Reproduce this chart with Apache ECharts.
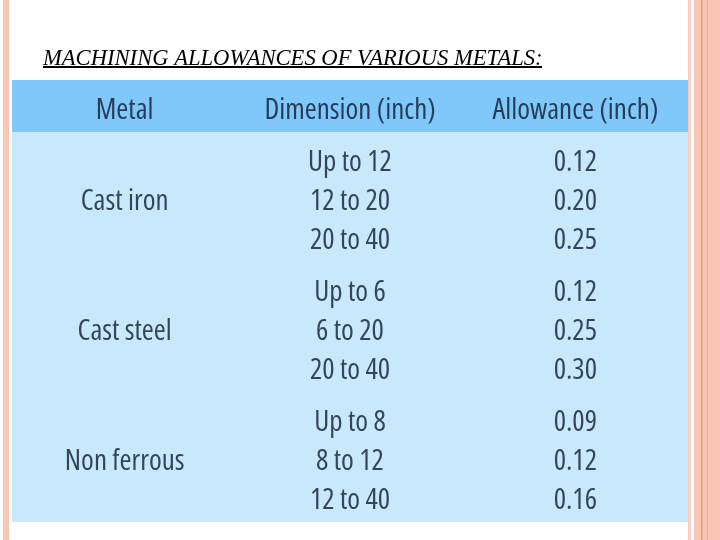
<!DOCTYPE html>
<html>
<head>
<meta charset="utf-8">
<script src="https://cdn.jsdelivr.net/npm/echarts@6/dist/echarts.min.js"></script>
<style>
  html, body { margin: 0; padding: 0; background: #fff; }
  #main { width: 720px; height: 540px; }
</style>
</head>
<body>
<div id="main"></div>
<script>
var headers = ['Metal', 'Dimension (inch)', 'Allowance (inch)'];
var metals = ['Cast iron', 'Cast steel', 'Non ferrous'];
var dimensions = [
    ['Up to 12', '12 to 20', '20 to 40'],
    ['Up to 6', '6 to 20', '20 to 40'],
    ['Up to 8', '8 to 12', '12 to 40']
];
var allowances = [
    [0.12, 0.20, 0.25],
    [0.12, 0.25, 0.30],
    [0.09, 0.12, 0.16]
];

// row layout in "group" units: header band 0..0.4, then one unit per metal
var headerH = 0.4;
var lineStep = 0.3;

var ink = '#0e1a33';

var cells = [];
for (var c = 0; c < headers.length; c++) {
    cells.push({ value: [c, headerH / 2], text: headers[c] });
}
for (var g = 0; g < metals.length; g++) {
    var mid = headerH + g + 0.5;
    cells.push({ value: [0, mid], text: metals[g] });
    for (var r = 0; r < dimensions[g].length; r++) {
        var y = mid + (r - 1) * lineStep;
        cells.push({ value: [1, y], text: dimensions[g][r] });
        cells.push({ value: [2, y], text: allowances[g][r].toFixed(2) });
    }
}

var myChart = echarts.init(document.getElementById('main'));
var option = {
    backgroundColor: '#ffffff',
    animation: false,
    title: {
        text: 'MACHINING ALLOWANCES OF VARIOUS METALS:',
        left: 38,
        top: 43,
        textStyle: {
            fontFamily: '"Liberation Serif", serif',
            fontStyle: 'italic',
            fontWeight: 'normal',
            fontSize: 22.6,
            color: '#000'
        }
    },
    grid: {
        left: 12,
        right: 32,
        top: 80,
        bottom: 18,
        show: true,
        backgroundColor: '#c8e8fc',
        borderWidth: 0
    },
    xAxis: {
        type: 'category',
        data: headers,
        boundaryGap: true,
        show: false
    },
    yAxis: {
        type: 'value',
        inverse: true,
        min: 0,
        max: headerH + metals.length,
        show: false
    },
    series: [{
        type: 'scatter',
        symbolSize: 1,
        itemStyle: { color: 'rgba(0,0,0,0)' },
        silent: true,
        data: cells,
        label: {
            show: true,
            position: 'inside',
            offset: [0, 5],
            formatter: function (p) { return p.data.text; },
            fontFamily: '"Open Sans", sans-serif',
            fontWeight: '500 condensed',
            fontSize: 29,
            color: ink,
            textBorderWidth: 0
        },
        markArea: {
            silent: true,
            itemStyle: { color: '#80c8fa' },
            data: [[{ yAxis: 0, x: 12 }, { yAxis: headerH, x: 688 }]]
        }
    }],
    graphic: [
        // underline of the title
        { type: 'rect', shape: { x: 43, y: 66, width: 499, height: 2 }, style: { fill: '#000' } },
        // slide border decoration
        { type: 'rect', shape: { x: 3, y: 0, width: 6, height: 540 }, style: { fill: '#f9c6b4' } },
        { type: 'rect', shape: { x: 688, y: 0, width: 3, height: 540 }, style: { fill: '#f8d0c0' } },
        { type: 'rect', shape: { x: 694, y: 0, width: 26, height: 540 }, style: { fill: '#f9c6b4' } },
        { type: 'rect', shape: { x: 701, y: 0, width: 1.5, height: 540 }, style: { fill: '#e89b7a' } },
        { type: 'rect', shape: { x: 707, y: 0, width: 1, height: 540 }, style: { fill: '#f0ae94' } }
    ]
};
myChart.setOption(option);
</script>
</body>
</html>
